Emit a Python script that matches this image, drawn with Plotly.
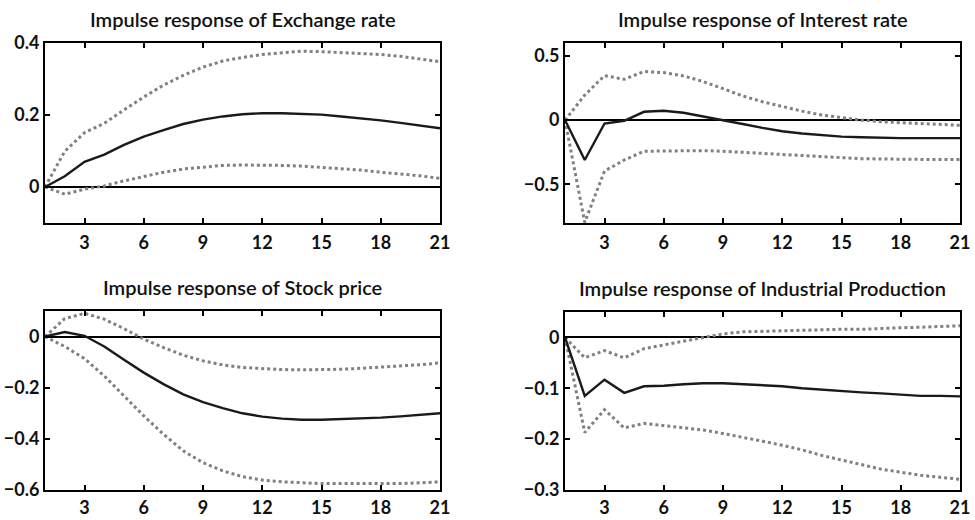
import plotly.graph_objects as go

periods = list(range(1, 22))

titles = [
    "Impulse response of Exchange rate",
    "Impulse response of Interest rate",
    "Impulse response of Stock price",
    "Impulse response of Industrial Production",
]

exch_mid = [0, 0.03, 0.07, 0.09, 0.117, 0.14, 0.158, 0.175, 0.187, 0.196, 0.202, 0.205, 0.205, 0.204, 0.201, 0.196, 0.191, 0.185, 0.178, 0.17, 0.163]
exch_up = [0, 0.099, 0.151, 0.177, 0.214, 0.25, 0.283, 0.31, 0.333, 0.35, 0.36, 0.368, 0.373, 0.377, 0.376, 0.374, 0.372, 0.368, 0.363, 0.356, 0.348]
exch_lo = [0, -0.02, -0.006, 0.003, 0.017, 0.03, 0.041, 0.05, 0.056, 0.06, 0.061, 0.061, 0.06, 0.058, 0.055, 0.051, 0.047, 0.041, 0.037, 0.031, 0.024]

int_mid = [0, -0.31, -0.026, -0.005, 0.065, 0.073, 0.057, 0.03, 0.0, -0.03, -0.06, -0.086, -0.104, -0.117, -0.128, -0.133, -0.138, -0.14, -0.14, -0.14, -0.14]
int_up = [0, 0.195, 0.346, 0.318, 0.378, 0.37, 0.344, 0.3, 0.245, 0.188, 0.143, 0.104, 0.07, 0.04, 0.018, 0.0, -0.013, -0.02, -0.029, -0.034, -0.04]
int_lo = [0, -0.795, -0.396, -0.31, -0.242, -0.24, -0.234, -0.237, -0.242, -0.25, -0.258, -0.268, -0.276, -0.286, -0.294, -0.3, -0.302, -0.305, -0.307, -0.307, -0.307]

stock_mid = [0, 0.018, 0.003, -0.039, -0.091, -0.141, -0.186, -0.226, -0.256, -0.28, -0.3, -0.313, -0.321, -0.325, -0.325, -0.323, -0.321, -0.317, -0.312, -0.306, -0.3]
stock_up = [0, 0.07, 0.091, 0.068, 0.031, -0.01, -0.043, -0.073, -0.095, -0.111, -0.121, -0.126, -0.129, -0.13, -0.129, -0.128, -0.124, -0.12, -0.115, -0.11, -0.103]
stock_lo = [0, -0.039, -0.086, -0.154, -0.232, -0.31, -0.382, -0.447, -0.493, -0.525, -0.548, -0.561, -0.568, -0.572, -0.575, -0.575, -0.576, -0.576, -0.575, -0.572, -0.568]

ip_mid = [0, -0.115, -0.083, -0.109, -0.096, -0.095, -0.092, -0.09, -0.09, -0.092, -0.094, -0.096, -0.1, -0.103, -0.105, -0.108, -0.11, -0.113, -0.115, -0.115, -0.116]
ip_up = [0, -0.04, -0.026, -0.04, -0.022, -0.015, -0.007, 0.0, 0.007, 0.011, 0.012, 0.014, 0.014, 0.015, 0.016, 0.016, 0.018, 0.019, 0.02, 0.021, 0.023]
ip_lo = [0, -0.187, -0.142, -0.178, -0.169, -0.173, -0.178, -0.182, -0.189, -0.196, -0.204, -0.212, -0.221, -0.232, -0.241, -0.25, -0.259, -0.265, -0.271, -0.275, -0.279]

x_ticks = [3, 6, 9, 12, 15, 18, 21]
y_ranges = [[-0.1, 0.4], [-0.8, 0.6], [-0.6, 0.1], [-0.3, 0.05]]
y_ticks = [[0, 0.2, 0.4], [-0.5, 0, 0.5], [-0.6, -0.4, -0.2, 0], [-0.3, -0.2, -0.1, 0]]

series = [
    (exch_mid, exch_up, exch_lo),
    (int_mid, int_up, int_lo),
    (stock_mid, stock_up, stock_lo),
    (ip_mid, ip_up, ip_lo),
]

W, H = 975, 520
boxes = [  # left, right, top, bottom in pixels
    (45, 440, 43, 223),
    (565, 960, 43, 223),
    (45, 440, 311, 490),
    (565, 960, 312, 490),
]
standoffs = [2, 2, 0, 0]

FONT = "Lato"
fig = go.Figure()
layout = dict(width=W, height=H, autosize=False,
              margin=dict(l=0, r=0, t=0, b=0, pad=0, autoexpand=False),
              paper_bgcolor="white", plot_bgcolor="white", showlegend=False)
annotations = []

for i, ((mid, up, lo), box) in enumerate(zip(series, boxes)):
    n = "" if i == 0 else str(i + 1)
    xa, ya = "x" + n, "y" + n
    for band in (up, lo):
        fig.add_trace(go.Scatter(x=periods, y=band, mode="lines", xaxis=xa, yaxis=ya,
                                 line=dict(color="#808080", width=3, dash="dot")))
    fig.add_trace(go.Scatter(x=periods, y=mid, mode="lines", xaxis=xa, yaxis=ya,
                             line=dict(color="#1a1a1a", width=2.4)))
    l, r, t, b = box
    axis_common = dict(showline=True, linecolor="black", linewidth=2, mirror="allticks",
                       ticks="inside", ticklen=5, tickwidth=1.5, tickcolor="black",
                       showgrid=False, automargin=False,
                       tickfont=dict(family=FONT, size=18, color="#111", weight="bold"))
    layout["xaxis" + n] = dict(axis_common, domain=[l / W, r / W], range=[1, 21],
                               tickvals=x_ticks, anchor=ya, zeroline=False,
                               ticklabelstandoff=standoffs[i])
    layout["yaxis" + n] = dict(axis_common, domain=[1 - b / H, 1 - t / H], range=y_ranges[i],
                               tickvals=y_ticks[i], anchor=xa, zeroline=True,
                               zerolinecolor="black", zerolinewidth=2)
    annotations.append(dict(text=titles[i], xref="paper", yref="paper",
                            x=(l + r) / 2 / W, y=1 - (t - 24) / H, xanchor="center", yanchor="middle",
                            showarrow=False,
                            font=dict(family=FONT, size=20, color="#111", weight=600)))

layout["annotations"] = annotations
fig.update_layout(**layout)
fig.write_html("out.html", config={"displayModeBar": False},
               post_script="document.body.style.margin='0';")
